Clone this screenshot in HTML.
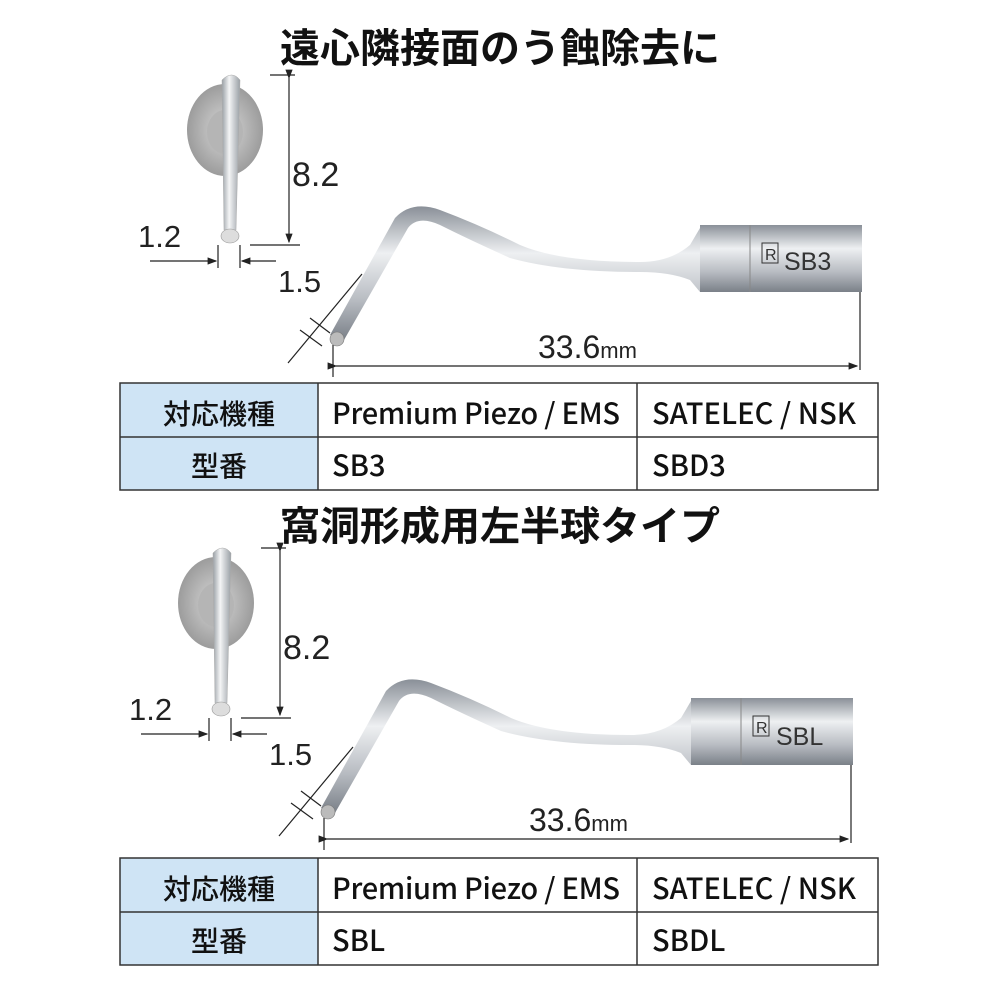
<!DOCTYPE html>
<html><head><meta charset="utf-8"><style>
body{margin:0;background:#fff}
svg{display:block}
.t{font-family:"Liberation Sans","Noto Sans CJK JP",sans-serif}
.j{font-family:"Noto Sans CJK JP",sans-serif}
</style></head><body>
<svg width="1000" height="1000" viewBox="0 0 1000 1000">
<defs>
<linearGradient id="sh" x1="0" y1="0" x2="0" y2="1"><stop offset="0" stop-color="#8a9098"/><stop offset=".35" stop-color="#eef0f2"/><stop offset=".7" stop-color="#b8bcc2"/><stop offset="1" stop-color="#7a8088"/></linearGradient>
<linearGradient id="sv" x1="0" y1="0" x2="1" y2="0"><stop offset="0" stop-color="#9aa0a6"/><stop offset=".4" stop-color="#f4f5f6"/><stop offset="1" stop-color="#9aa0a6"/></linearGradient>
<radialGradient id="disc"><stop offset="0" stop-color="#d8d8d8"/><stop offset="1" stop-color="#9c9c9c"/></radialGradient>
<marker id="a" markerWidth="8" markerHeight="8" refX="7" refY="4" orient="auto"><path d="M0,1 L8,4 L0,7z" fill="#222"/></marker>
<g id="draw">
 <ellipse cx="225" cy="130" rx="38" ry="46" fill="url(#disc)"/>
 <ellipse cx="225" cy="132" rx="18" ry="22" fill="#b5b5b5"/>
 <path d="M222,80 Q232,70 240,80 L236,230 L224,230z" fill="url(#sv)" stroke="#aaa" stroke-width=".5"/>
 <ellipse cx="230" cy="236" rx="9" ry="7" fill="#ddd" stroke="#999" stroke-width=".6"/>
 <g stroke="#222" stroke-width="1.2" fill="none">
  <line x1="270" y1="75" x2="295" y2="75"/><line x1="250" y1="245" x2="300" y2="245"/>
  <line x1="289" y1="78" x2="289" y2="242" marker-end="url(#a)" marker-start="url(#a)"/>
  <line x1="150" y1="261" x2="216" y2="261" marker-end="url(#a)"/>
  <line x1="276" y1="261" x2="242" y2="261" marker-end="url(#a)"/>
  <line x1="218" y1="245" x2="218" y2="268"/><line x1="240" y1="245" x2="240" y2="268"/>
  <line x1="288" y1="363" x2="362" y2="274"/>
  <line x1="310" y1="318" x2="330" y2="333"/><line x1="300" y1="330" x2="322" y2="346"/>
  <line x1="333" y1="345" x2="333" y2="377"/>
  <line x1="860" y1="292" x2="860" y2="370"/>
  <line x1="336" y1="366" x2="857" y2="366" marker-end="url(#a)" marker-start="url(#a)"/>
 </g>
 <path d="M330,335 L395,218 Q412,200 440,210 Q480,225 520,245 Q560,262 640,262 Q670,262 690,245 L700,228 L700,292 L690,280 Q670,272 640,272 Q560,272 510,258 Q470,240 440,225 Q418,215 408,228 L344,340z" fill="url(#sh)"/>
 <rect x="700" y="225" width="50" height="67" fill="url(#sh)"/>
 <rect x="750" y="225" width="112" height="67" fill="url(#sh)"/>
 <line x1="750" y1="225" x2="750" y2="292" stroke="#888"/>
 <circle cx="337" cy="339" r="7" fill="#bbb" stroke="#777" stroke-width=".6"/>
 <rect x="762" y="243" width="16" height="20" fill="none" stroke="#333"/>
 <text x="765" y="260" class="t" font-size="16" fill="#333">R</text>
 <text class="t" x="292" y="186" font-size="34" fill="#222">8.2</text>
 <text class="t" x="138" y="247" font-size="31" fill="#222">1.2</text>
 <text class="t" x="278" y="292" font-size="31" fill="#222">1.5</text>
 <text class="t" x="538" y="358" font-size="32" fill="#222">33.6<tspan font-size="22">mm</tspan></text>
</g>
</defs>

<text class="j" x="500" y="62" text-anchor="middle" font-size="40" font-weight="bold" fill="#111">遠心隣接面のう蝕除去に</text>
<use href="#draw"/>
<text class="t" x="784" y="270" font-size="25" fill="#333">SB3</text>

<text class="j" x="500" y="540" text-anchor="middle" font-size="40" font-weight="bold" fill="#111">窩洞形成用左半球タイプ</text>
<g transform="translate(-9,473)"><use href="#draw"/></g>
<text class="t" x="776" y="745" font-size="25" fill="#333">SBL</text>

<g id="tbl">
<rect x="120" y="383" width="198" height="107" fill="#cfe4f5"/>
<g stroke="#333" stroke-width="1.5" fill="none">
<rect x="120" y="383" width="758" height="107"/>
<line x1="120" y1="437" x2="878" y2="437"/>
<line x1="318" y1="383" x2="318" y2="490"/>
<line x1="637" y1="383" x2="637" y2="490"/>
</g>
<text class="j" x="219" y="424" text-anchor="middle" font-size="28" font-weight="500" fill="#111">対応機種</text>
<text class="j" x="219" y="476" text-anchor="middle" font-size="28" font-weight="500" fill="#111">型番</text>
<text class="j" x="332" y="424" font-size="29" font-weight="500" fill="#111" textLength="288">Premium Piezo / EMS</text>
<text class="j" x="652" y="424" font-size="29" font-weight="500" fill="#111" textLength="204">SATELEC / NSK</text>
</g>
<text class="j" x="332" y="476" font-size="29" font-weight="500" fill="#111">SB3</text>
<text class="j" x="652" y="476" font-size="29" font-weight="500" fill="#111">SBD3</text>
<g transform="translate(0,475)"><use href="#tbl"/></g>
<text class="j" x="332" y="951" font-size="29" font-weight="500" fill="#111">SBL</text>
<text class="j" x="652" y="951" font-size="29" font-weight="500" fill="#111">SBDL</text>
</svg>
</body></html>
